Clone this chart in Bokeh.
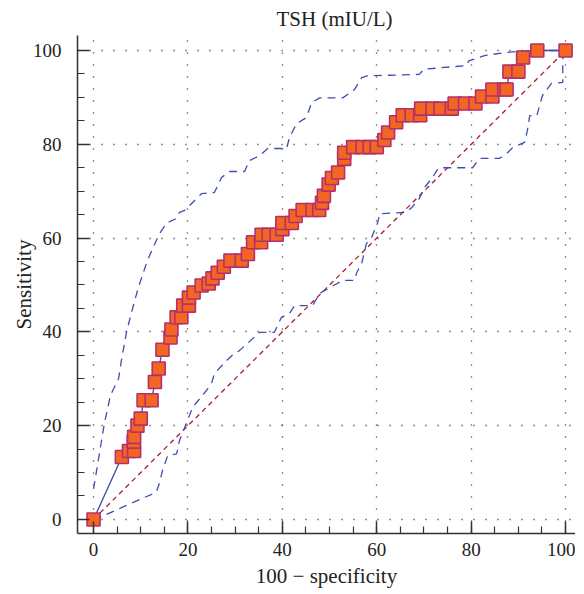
from bokeh.plotting import figure
from bokeh.models import Range1d, SingleIntervalTicker
from bokeh.embed import file_html
from bokeh.resources import INLINE

# ROC curve points (100 - specificity, sensitivity)
roc_x = [0, 6.0, 7.5, 8.6, 8.5, 8.6, 9.3, 10.0, 10.6, 12.3, 13.0, 13.8, 14.6, 16.3, 16.5,
         17.6, 18.6, 19.0, 20.2, 20.2, 21.2, 22.9, 24.4, 25.2, 26.3, 27.6, 29.0, 31.4,
         32.7, 33.8, 35.5, 35.6, 37.1, 38.8, 40.0, 40.0, 42.0, 42.8, 44.3, 46.4, 47.8,
         48.4, 48.8, 49.8, 50.5, 51.8, 53.1, 53.1, 55.0, 57.0, 58.5, 60.0, 61.6, 62.4,
         64.1, 65.5, 67.4, 69.2, 69.4, 71.8, 73.5, 75.9, 76.5, 78.7, 80.9, 82.3, 84.5,
         84.5, 87.0, 87.5, 88.1, 90.0, 91.0, 94.0, 100]
roc_y = [0, 13.3, 14.6, 14.6, 16.6, 17.6, 20.0, 21.5, 25.4, 25.4, 29.3, 32.2, 36.2, 38.8, 40.5,
         43.1, 43.1, 45.6, 45.6, 47.3, 48.4, 49.9, 50.3, 51.4, 52.6, 53.9, 55.2, 55.2,
         56.6, 59.1, 59.1, 60.7, 60.7, 60.7, 61.9, 63.2, 63.2, 64.7, 66.0, 66.0, 66.0,
         67.5, 69.0, 71.4, 72.8, 74.0, 76.9, 78.2, 79.4, 79.4, 79.4, 79.4, 80.9, 82.5,
         84.7, 86.2, 86.2, 86.2, 87.6, 87.6, 87.6, 87.6, 88.7, 88.7, 88.7, 90.2, 90.2,
         91.7, 91.7, 91.7, 95.5, 95.5, 98.5, 100, 100]

# Upper confidence bound
upper_x = [0, 2.3, 3.6, 5.3, 5.9, 7.0, 8.0, 9.5, 11.4, 13.3, 14.0, 15.5, 17.6, 18.2, 19.3,
           21.0, 22.9, 25.6, 27.1, 28.8, 32.0, 33.0, 35.2, 36.9, 40.9, 41.5, 43.0, 45.1,
           46.2, 47.9, 52.8, 55.3, 56.8, 58.0, 69.0, 70.0, 79.0, 79.5, 82.8, 86.7, 89.6,
           93.0, 100]
upper_y = [6.5, 20.5, 26.5, 30.0, 33.9, 40.0, 44.0, 49.5, 55.2, 59.5, 61.0, 63.2, 64.2, 65.5,
           65.9, 67.6, 69.5, 69.7, 72.9, 74.2, 74.2, 76.5, 77.6, 79.1, 79.1, 81.4, 84.4,
           85.7, 88.9, 89.9, 89.9, 91.7, 94.2, 94.6, 94.9, 96.0, 96.8, 97.8, 98.9, 99.5,
           99.8, 100, 100]

# Lower confidence bound
lower_x = [0, 1.3, 7.0, 13.3, 14.0, 14.6, 15.7, 17.6, 18.2, 19.9, 21.0, 23.9, 25.0, 25.6,
           28.2, 29.4, 30.9, 35.2, 38.3, 39.8, 41.5, 42.6, 46.4, 47.9, 52.8, 55.3, 55.7,
           56.8, 57.8, 58.9, 60.2, 60.6, 66.3, 67.4, 69.0, 70.1, 71.8, 72.7, 73.3, 80.3,
           81.8, 86.0, 87.5, 88.8, 91.3, 91.9, 92.4, 93.9, 95.1, 97.0, 99.4, 99.4, 100]
lower_y = [0, 0.4, 3.0, 5.8, 7.9, 10.4, 13.6, 14.0, 16.8, 21.1, 23.9, 27.5, 29.0, 31.1,
           33.9, 35.0, 36.0, 39.9, 39.9, 43.1, 43.9, 45.6, 45.6, 48.2, 51.0, 51.0, 52.5,
           54.6, 58.8, 60.1, 63.3, 65.2, 65.5, 66.5, 68.4, 70.8, 72.9, 74.4, 75.0, 75.0,
           77.0, 77.0, 78.0, 79.3, 80.4, 82.9, 86.1, 86.1, 90.4, 93.0, 93.2, 98.3, 100]

diag_x = [0, 100]
diag_y = [0, 100]

FONT = "Liberation Serif"

p = figure(frame_width=498, frame_height=498, output_backend="svg", toolbar_location=None,
           x_range=Range1d(-3.4, 102.1), y_range=Range1d(-3.0, 103.2),
           min_border_left=77, min_border_right=0, min_border_top=31, min_border_bottom=45,
           title="TSH (mIU/L)")
p.outline_line_color = None
p.background_fill_color = "white"
p.border_fill_color = "white"

p.title.align = "left"
p.title.offset = 199
p.title.text_font = FONT
p.title.text_font_style = "normal"
p.title.text_font_size = "21px"
p.title.text_color = "#222222"
p.title.standoff = 9

for ax, lab in ((p.xaxis[0], "100 \u2212 specificity"), (p.yaxis[0], "Sensitivity")):
    ax.ticker = SingleIntervalTicker(interval=20, num_minor_ticks=4)
    ax.axis_label = lab
    ax.axis_label_text_font = FONT
    ax.axis_label_text_font_style = "normal"
    ax.axis_label_text_font_size = "21px"
    ax.axis_label_text_color = "#222222"
    ax.major_label_text_font = FONT
    ax.major_label_text_font_size = "19px"
    ax.major_label_text_color = "#222222"
    ax.axis_line_color = "#333333"
    ax.axis_line_width = 1.5
    ax.major_tick_line_color = "#333333"
    ax.major_tick_line_width = 1.5
    ax.minor_tick_line_color = "#333333"
    ax.minor_tick_line_width = 1.2
    ax.major_tick_in = 12
    ax.major_tick_out = 0
    ax.minor_tick_in = 7
    ax.minor_tick_out = 0

p.xaxis.major_label_standoff = 9
p.xaxis.axis_label_standoff = 5
p.yaxis.major_label_standoff = 16
p.yaxis.axis_label_standoff = -6

for g in (p.xgrid[0], p.ygrid[0]):
    g.ticker = SingleIntervalTicker(interval=20)
    g.grid_line_color = "#222222"
    g.grid_line_width = 1.3
    g.grid_line_dash = "1 11"

p.line(diag_x, diag_y, line_color="#a3202f", line_width=1.3, line_dash="5 4")
p.line(upper_x, upper_y, line_color="#3d4fb0", line_width=1.3, line_dash="8 6")
p.line(lower_x, lower_y, line_color="#3d4fb0", line_width=1.3, line_dash="8 6")
p.line(roc_x, roc_y, line_color="#3a4aa8", line_width=1.3)
p.scatter(roc_x, roc_y, marker="square", size=13, fill_color="#f26522",
          line_color="#b5306b", line_width=1.6)

open("out.html", "w").write(file_html(p, INLINE))
